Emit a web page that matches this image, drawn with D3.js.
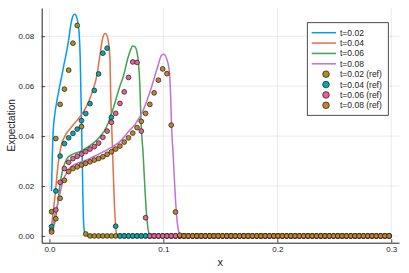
<!DOCTYPE html>
<html>
<head>
<meta charset="utf-8">
<script src="https://cdn.jsdelivr.net/npm/d3@7"></script>
<style>
  html, body { margin: 0; padding: 0; background: #fff; }
  text { font-family: "Liberation Sans", Arial, Helvetica, sans-serif; fill: #222; }
</style>
</head>
<body>
<div id="chart"></div>
<script>
// ---- data: analytic curves (x, y pairs) ----
const line02X = [0.0018, 0.0025, 0.0033, 0.0045, 0.0065, 0.0090, 0.0110, 0.0130, 0.0151, 0.0170, 0.0186, 0.0200, 0.0212, 0.0224, 0.0236, 0.0247, 0.0256, 0.0264, 0.0270, 0.0276, 0.0282, 0.0288, 0.0294, 0.0300, 0.0311, 0.0338, 0.3];
const line02Y = [0.0180, 0.0320, 0.0420, 0.0480, 0.0540, 0.0600, 0.0645, 0.0692, 0.0739, 0.0790, 0.0842, 0.0873, 0.0886, 0.0888, 0.0880, 0.0862, 0.0835, 0.0785, 0.0712, 0.0579, 0.0445, 0.0300, 0.0150, 0.0050, 0.0010, 0, 0];

const line04X = [0.0019, 0.0048, 0.0077, 0.0104, 0.0136, 0.0186, 0.0244, 0.0288, 0.0342, 0.0382, 0.0417, 0.0447, 0.0469, 0.0489, 0.0504, 0.0518, 0.0531, 0.0537, 0.0546, 0.0560, 0.0575, 0.0589, 0.0618, 0.3];
const line04Y = [0.0044, 0.0157, 0.0291, 0.0364, 0.0400, 0.0432, 0.0464, 0.0490, 0.0535, 0.0585, 0.0644, 0.0736, 0.0796, 0.0811, 0.0804, 0.0776, 0.0712, 0.0579, 0.0445, 0.0256, 0.0083, 0.0009, 0, 0];

const line06X = [0.0025, 0.0048, 0.0070, 0.0096, 0.0123, 0.0154, 0.0197, 0.0268, 0.0355, 0.0425, 0.0513, 0.0540, 0.0566, 0.0592, 0.0618, 0.0647, 0.0691, 0.0711, 0.0730, 0.0750, 0.0768, 0.0781, 0.0794, 0.0803, 0.0823, 0.0838, 0.0853, 0.0875, 0.0900, 0.3];
const line06Y = [0.0032, 0.0056, 0.0124, 0.0216, 0.0276, 0.0310, 0.0326, 0.0338, 0.0362, 0.0388, 0.0448, 0.0484, 0.0520, 0.0560, 0.0600, 0.0637, 0.0717, 0.0744, 0.0761, 0.0758, 0.0736, 0.0696, 0.0597, 0.0464, 0.0323, 0.0189, 0.0083, 0.0009, 0, 0];

const line08X = [0.0025, 0.0033, 0.0063, 0.0092, 0.0121, 0.0149, 0.0186, 0.0241, 0.0303, 0.0419, 0.0535, 0.0618, 0.0706, 0.0750, 0.0823, 0.0896, 0.0954, 0.0984, 0.1003, 0.1028, 0.1051, 0.1063, 0.1072, 0.1086, 0.1101, 0.1116, 0.1136, 0.1162, 0.3];
const line08Y = [0.0024, 0.0056, 0.0109, 0.0169, 0.0223, 0.0252, 0.0276, 0.0290, 0.0300, 0.0325, 0.0353, 0.0378, 0.0424, 0.0446, 0.0504, 0.0597, 0.0684, 0.0724, 0.0728, 0.0711, 0.0664, 0.0571, 0.0437, 0.0323, 0.0189, 0.0083, 0.0016, 0, 0];

// ---- data: reference solution on 80 cell centres over [0, 0.3] ----
const cellX = d3.range(80).map(i => (i + 0.5) * 0.3 / 80);

const ref02 = [0.0097, 0.0390, 0.0527, 0.0588, 0.0664, 0.0772, 0.0843, 0.0438, 0.0008, 0,
  0, 0, 0, 0, 0, 0, 0, 0, 0, 0,
  0, 0, 0, 0, 0, 0, 0, 0, 0, 0,
  0, 0, 0, 0, 0, 0, 0, 0, 0, 0,
  0, 0, 0, 0, 0, 0, 0, 0, 0, 0,
  0, 0, 0, 0, 0, 0, 0, 0, 0, 0,
  0, 0, 0, 0, 0, 0, 0, 0, 0, 0,
  0, 0, 0, 0, 0, 0, 0, 0, 0, 0];

const ref04 = [0.0037, 0.0180, 0.0320, 0.0370, 0.0393, 0.0411, 0.0428, 0.0462, 0.0490, 0.0530,
  0.0583, 0.0649, 0.0732, 0.0752, 0.0475, 0.0039, 0, 0, 0, 0,
  0, 0, 0, 0, 0, 0, 0, 0, 0, 0,
  0, 0, 0, 0, 0, 0, 0, 0, 0, 0,
  0, 0, 0, 0, 0, 0, 0, 0, 0, 0,
  0, 0, 0, 0, 0, 0, 0, 0, 0, 0,
  0, 0, 0, 0, 0, 0, 0, 0, 0, 0,
  0, 0, 0, 0, 0, 0, 0, 0, 0, 0];

const ref06 = [0.0022, 0.0104, 0.0215, 0.0270, 0.0295, 0.0310, 0.0319, 0.0328, 0.0338, 0.0348,
  0.0358, 0.0372, 0.0395, 0.0420, 0.0455, 0.0491, 0.0531, 0.0577, 0.0635, 0.0697,
  0.0695, 0.0420, 0.0073, 0, 0, 0, 0, 0, 0, 0,
  0, 0, 0, 0, 0, 0, 0, 0, 0, 0,
  0, 0, 0, 0, 0, 0, 0, 0, 0, 0,
  0, 0, 0, 0, 0, 0, 0, 0, 0, 0,
  0, 0, 0, 0, 0, 0, 0, 0, 0, 0,
  0, 0, 0, 0, 0, 0, 0, 0, 0, 0];

const ref08 = [0.0016, 0.0069, 0.0151, 0.0223, 0.0258, 0.0270, 0.0277, 0.0284, 0.0291, 0.0297,
  0.0304, 0.0310, 0.0317, 0.0327, 0.0337, 0.0348, 0.0360, 0.0376, 0.0393, 0.0412,
  0.0434, 0.0459, 0.0491, 0.0527, 0.0573, 0.0624, 0.0669, 0.0650, 0.0444, 0.0096,
  0.0003, 0, 0, 0, 0, 0, 0, 0, 0, 0,
  0, 0, 0, 0, 0, 0, 0, 0, 0, 0,
  0, 0, 0, 0, 0, 0, 0, 0, 0, 0,
  0, 0, 0, 0, 0, 0, 0, 0, 0, 0,
  0, 0, 0, 0, 0, 0, 0, 0, 0, 0];

const lineNames = ["t=0.02", "t=0.04", "t=0.06", "t=0.08"];
const refNames = ["t=0.02 (ref)", "t=0.04 (ref)", "t=0.06 (ref)", "t=0.08 (ref)"];
const xTicks = [0, 0.1, 0.2, 0.3];
const yTicks = [0, 0.02, 0.04, 0.06, 0.08];

const lineColors = ["#009AFA", "#E36F47", "#3EA44E", "#C371D2"];
const refColors = ["#AC8E18", "#00AAAE", "#ED5E93", "#C68225"];

// ---- set up chart area ----
const width = 409, height = 273;
const plot = { left: 41.7, right: 399, top: 8, bottom: 242.7 };

const svg = d3.select("#chart")
  .append("svg")
  .attr("width", width)
  .attr("height", height);

const xScale = d3.scaleLinear().domain([-0.0068, 0.3068]).range([plot.left, plot.right]);
const yScale = d3.scaleLinear().domain([-0.0027, 0.0913]).range([plot.bottom, plot.top]);

// ---- grid ----
svg.append("g").selectAll("line")
  .data(xTicks)
  .join("line")
  .attr("x1", d => xScale(d)).attr("x2", d => xScale(d))
  .attr("y1", plot.top).attr("y2", plot.bottom)
  .attr("stroke", "#000").attr("stroke-opacity", 0.1).attr("stroke-width", 0.8);

svg.append("g").selectAll("line")
  .data(yTicks)
  .join("line")
  .attr("x1", plot.left).attr("x2", plot.right)
  .attr("y1", d => yScale(d)).attr("y2", d => yScale(d))
  .attr("stroke", "#000").attr("stroke-opacity", 0.1).attr("stroke-width", 0.8);

// ---- curves ----
const lineSeries = [
  d3.zip(line02X, line02Y),
  d3.zip(line04X, line04Y),
  d3.zip(line06X, line06Y),
  d3.zip(line08X, line08Y)
];

const lineGen = d3.line()
  .x(d => xScale(d[0]))
  .y(d => yScale(d[1]))
  .curve(d3.curveMonotoneX);

svg.append("g").selectAll("path")
  .data(lineSeries)
  .join("path")
  .attr("d", lineGen)
  .attr("fill", "none")
  .attr("stroke", (d, i) => lineColors[i])
  .attr("stroke-width", 1.5);

// ---- reference markers ----
const refSeries = [ref02, ref04, ref06, ref08];

refSeries.forEach((vals, k) => {
  svg.append("g").selectAll("circle")
    .data(vals)
    .join("circle")
    .attr("cx", (d, i) => xScale(cellX[i]))
    .attr("cy", d => yScale(d))
    .attr("r", 2.4)
    .attr("fill", refColors[k])
    .attr("stroke", "#1a1a1a")
    .attr("stroke-width", 0.7);
});

// ---- axes ----
const xAxis = svg.append("g")
  .attr("transform", `translate(0,${plot.bottom})`)
  .call(d3.axisBottom(xScale).tickValues(xTicks).tickFormat(d3.format(".1f"))
    .tickSizeInner(-3.5).tickSizeOuter(0).tickPadding(4));

const yAxis = svg.append("g")
  .attr("transform", `translate(${plot.left},0)`)
  .call(d3.axisLeft(yScale).tickValues(yTicks).tickFormat(d3.format(".2f"))
    .tickSizeInner(-3.5).tickSizeOuter(0).tickPadding(7.5));

[xAxis, yAxis].forEach(ax => {
  ax.select(".domain").attr("stroke", "#222").attr("stroke-width", 1);
  ax.selectAll(".tick line").attr("stroke", "#222").attr("stroke-width", 0.8);
  ax.selectAll(".tick text").attr("font-size", 8).attr("fill", "#222")
    .style("font-family", "'Liberation Sans', Arial, sans-serif");
});

svg.append("text")
  .attr("x", (plot.left + plot.right) / 2)
  .attr("y", 266)
  .attr("text-anchor", "middle")
  .attr("font-size", 11)
  .text("x");

svg.append("text")
  .attr("transform", "rotate(-90)")
  .attr("x", -(plot.top + plot.bottom) / 2)
  .attr("y", 15)
  .attr("text-anchor", "middle")
  .attr("font-size", 10)
  .text("Expectation");

// ---- legend ----
const legend = svg.append("g");
const legBox = { x: 307.3, y: 22.7, w: 81, h: 92.6 };
const rowY = i => 32.7 + i * 10.37;

legend.append("rect")
  .attr("x", legBox.x).attr("y", legBox.y)
  .attr("width", legBox.w).attr("height", legBox.h)
  .attr("fill", "#fff").attr("stroke", "#222").attr("stroke-width", 0.8);

lineNames.forEach((name, i) => {
  legend.append("line")
    .attr("x1", 311.7).attr("x2", 336)
    .attr("y1", rowY(i)).attr("y2", rowY(i))
    .attr("stroke", lineColors[i]).attr("stroke-width", 1.5);
  legend.append("text")
    .attr("x", 340).attr("y", rowY(i) + 3)
    .attr("font-size", 8.5)
    .text(name);
});

refNames.forEach((name, i) => {
  legend.append("circle")
    .attr("cx", 326).attr("cy", rowY(i + 4))
    .attr("r", 3.3)
    .attr("fill", refColors[i]).attr("stroke", "#1a1a1a").attr("stroke-width", 0.7);
  legend.append("text")
    .attr("x", 340).attr("y", rowY(i + 4) + 3)
    .attr("font-size", 8.5)
    .text(name);
});
</script>
</body>
</html>
